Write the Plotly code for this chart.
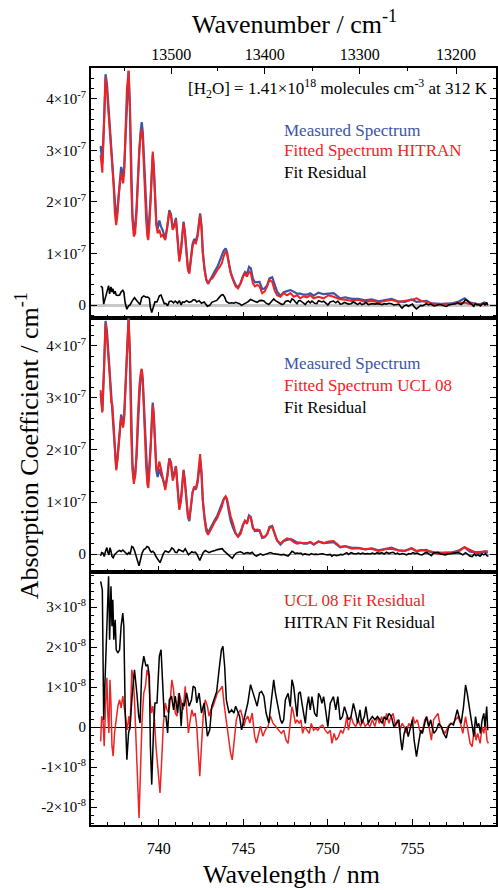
import plotly.graph_objects as go

W, H = 498, 890
ML, MR, MT, MB = 91, 0, 68, 65
FONT = "Liberation Serif, Times New Roman, serif"
BLUE = "#3B55A8"
RED = "#EE2424"
BLACK = "#000000"

# ---------------- data ----------------
wl_spec = [736.57, 736.67, 736.77, 736.86, 736.94, 737.00, 737.10, 737.20, 737.26, 737.34,
           737.41, 737.49, 737.57, 737.65, 737.73, 737.78, 737.84, 737.90, 737.96, 738.04,
           738.12, 738.22, 738.30, 738.37, 738.45, 738.53, 738.61, 738.69, 738.76, 738.86,
           738.94, 739.00, 739.06, 739.16, 739.26, 739.33, 739.39, 739.45, 739.53, 739.59,
           739.65, 739.71, 739.79, 739.86, 739.94, 740.04, 740.14, 740.24, 740.39, 740.51,
           740.63, 740.73, 740.83, 740.92, 741.02, 741.12, 741.22, 741.32, 741.41, 741.47,
           741.55, 741.65, 741.73, 741.81, 741.90, 742.00, 742.10, 742.20, 742.30, 742.39,
           742.45, 742.53, 742.61, 742.71, 742.81, 742.92, 743.04, 743.18, 743.32, 743.47,
           743.61, 743.73, 743.84, 743.96, 744.04, 744.14, 744.26, 744.39, 744.55, 744.69,
           744.85, 744.98, 745.10, 745.22, 745.34, 745.45, 745.57, 745.69, 745.83, 745.96,
           746.12, 746.26, 746.41, 746.55, 746.71, 746.85, 747.00, 747.20, 747.39, 747.59,
           747.79, 747.98, 748.18, 748.37, 748.57, 748.77, 748.96, 749.16, 749.45, 749.75,
           750.04, 750.34, 750.73, 751.03, 751.42, 751.81, 752.20, 752.59, 752.99, 753.38,
           753.77, 754.16, 754.55, 754.95, 755.24, 755.53, 755.83, 756.12, 756.52, 756.91,
           757.30, 757.69, 758.08, 758.38, 758.67, 758.97, 759.26, 759.45]

# absorption coefficient, units of 1e-7 cm^-1
measured = [3.09, 2.75, 3.55, 4.48, 4.30, 4.00, 3.52, 2.94, 2.83, 2.42,
            1.90, 1.64, 1.87, 2.26, 2.54, 2.68, 2.60, 2.50, 2.66, 3.22,
            4.09, 4.54, 3.85, 2.47, 1.74, 1.45, 1.52, 1.87, 2.42, 3.03,
            3.39, 3.55, 3.36, 2.53, 1.80, 1.48, 1.40, 1.65, 2.10, 2.55,
            2.91, 2.69, 2.10, 1.61, 1.48, 1.64, 1.52, 1.45, 1.29, 1.51,
            1.84, 1.76, 1.49, 1.55, 1.69, 1.28, 0.88, 1.07, 1.49, 1.62,
            1.42, 0.99, 0.71, 0.63, 0.90, 1.18, 1.28, 1.24, 1.37, 1.70,
            1.78, 1.54, 1.03, 0.71, 0.50, 0.41, 0.49, 0.56, 0.66, 0.74,
            0.85, 0.95, 1.05, 1.10, 1.03, 0.83, 0.63, 0.51, 0.39, 0.34,
            0.43, 0.56, 0.64, 0.60, 0.74, 0.71, 0.51, 0.44, 0.44, 0.45,
            0.31, 0.32, 0.38, 0.52, 0.54, 0.39, 0.26, 0.18, 0.25, 0.27,
            0.29, 0.26, 0.22, 0.22, 0.20, 0.20, 0.23, 0.18, 0.24, 0.21,
            0.22, 0.23, 0.13, 0.15, 0.12, 0.12, 0.09, 0.11, 0.07, 0.10,
            0.12, 0.07, 0.06, 0.11, 0.06, 0.07, 0.08, 0.03, 0.02, 0.02,
            0.03, 0.06, 0.13, 0.05, 0.03, 0.01, 0.05, 0.02]

hitran_fit = [2.91, 2.57, 3.53, 4.42, 4.17, 3.85, 3.40, 2.78, 2.69, 2.30,
              1.78, 1.55, 1.78, 2.17, 2.43, 2.56, 2.46, 2.36, 2.56, 3.20,
              4.17, 4.55, 3.85, 2.43, 1.65, 1.33, 1.39, 1.78, 2.36, 3.01,
              3.33, 3.41, 3.20, 2.36, 1.65, 1.33, 1.26, 1.52, 2.17, 2.69,
              2.98, 2.69, 2.04, 1.55, 1.39, 1.46, 1.33, 1.36, 1.26, 1.52,
              1.81, 1.72, 1.46, 1.52, 1.65, 1.26, 0.84, 1.07, 1.46, 1.59,
              1.39, 0.94, 0.68, 0.61, 0.87, 1.13, 1.23, 1.20, 1.33, 1.65,
              1.75, 1.52, 1.00, 0.68, 0.49, 0.42, 0.49, 0.52, 0.61, 0.68,
              0.74, 0.81, 0.94, 1.04, 1.00, 0.81, 0.61, 0.49, 0.36, 0.32,
              0.42, 0.55, 0.61, 0.55, 0.65, 0.61, 0.42, 0.36, 0.39, 0.36,
              0.23, 0.26, 0.36, 0.49, 0.45, 0.29, 0.19, 0.16, 0.23, 0.19,
              0.23, 0.16, 0.19, 0.13, 0.17, 0.15, 0.19, 0.13, 0.16, 0.13,
              0.19, 0.16, 0.11, 0.10, 0.08, 0.10, 0.06, 0.08, 0.05, 0.08,
              0.10, 0.06, 0.08, 0.10, 0.13, 0.08, 0.06, 0.03, 0.01, 0.03,
              0.02, 0.03, 0.05, 0.02, 0.03, 0.01, 0.03, 0.02]

ucl_fit = [3.15, 2.72, 3.58, 4.43, 4.18, 3.97, 3.47, 2.91, 2.88, 2.47,
           1.91, 1.61, 1.82, 2.20, 2.48, 2.63, 2.54, 2.43, 2.61, 3.20,
           4.09, 4.52, 3.85, 2.37, 1.61, 1.35, 1.49, 1.92, 2.57, 3.24,
           3.48, 3.56, 3.32, 2.44, 1.68, 1.34, 1.27, 1.55, 2.05, 2.51,
           2.86, 2.66, 2.11, 1.67, 1.58, 1.78, 1.63, 1.48, 1.23, 1.47,
           1.83, 1.71, 1.41, 1.51, 1.69, 1.25, 0.85, 1.01, 1.47, 1.60,
           1.36, 0.98, 0.75, 0.66, 0.91, 1.18, 1.30, 1.26, 1.43, 1.83,
           1.92, 1.61, 1.03, 0.67, 0.44, 0.37, 0.46, 0.53, 0.62, 0.69,
           0.81, 0.90, 1.05, 1.11, 1.06, 0.87, 0.72, 0.59, 0.40, 0.33,
           0.39, 0.55, 0.63, 0.58, 0.73, 0.69, 0.49, 0.46, 0.47, 0.46,
           0.33, 0.33, 0.38, 0.50, 0.52, 0.39, 0.26, 0.20, 0.26, 0.30,
           0.28, 0.23, 0.20, 0.21, 0.21, 0.21, 0.23, 0.19, 0.24, 0.21,
           0.24, 0.25, 0.14, 0.15, 0.10, 0.11, 0.09, 0.10, 0.06, 0.09,
           0.10, 0.07, 0.06, 0.11, 0.05, 0.08, 0.06, 0.05, 0.00, 0.03,
           0.02, 0.04, 0.13, 0.08, 0.04, 0.04, 0.06, 0.06]

# fit residuals, units of 1e-8 cm^-1
wl_res_hitran = [736.57, 736.67, 736.75, 736.90, 737.04, 737.10, 737.18, 737.24, 737.29, 737.35,
                 737.43, 737.49, 737.59, 737.69, 737.78, 737.88, 737.94, 738.02, 738.12, 738.22,
                 738.31, 738.43, 738.57, 738.71, 738.82, 738.90, 739.00, 739.12, 739.25, 739.35,
                 739.45, 739.51, 739.59, 739.69, 739.78, 739.90, 740.04, 740.14, 740.24, 740.33,
                 740.43, 740.53, 740.63, 740.76, 740.88, 740.98, 741.12, 741.22, 741.33, 741.41,
                 741.51, 741.65, 741.80, 741.94, 742.04, 742.16, 742.25, 742.39, 742.53, 742.69,
                 742.88, 743.02, 743.14, 743.27, 743.43, 743.57, 743.71, 743.80, 743.90, 744.00,
                 744.16, 744.31, 744.45, 744.55, 744.69, 744.78, 744.90, 745.00, 745.14, 745.27,
                 745.43, 745.53, 745.67, 745.82, 745.96, 746.08, 746.22, 746.35, 746.51, 746.67,
                 746.80, 746.90, 747.06, 747.20, 747.29, 747.39, 747.49, 747.65, 747.78, 747.88,
                 747.98, 748.08, 748.18, 748.27, 748.37, 748.47, 748.57, 748.67, 748.76, 748.86,
                 748.96, 749.06, 749.22, 749.35, 749.45, 749.55, 749.65, 749.75, 749.84, 750.00,
                 750.14, 750.24, 750.33, 750.47, 750.59, 750.73, 750.86, 750.98, 751.12, 751.22,
                 751.37, 751.51, 751.65, 751.76, 751.90, 752.00, 752.16, 752.25, 752.39, 752.49,
                 752.63, 752.78, 752.94, 753.08, 753.22, 753.33, 753.47, 753.61, 753.76, 753.90,
                 754.06, 754.20, 754.31, 754.39, 754.51, 754.65, 754.75, 754.88, 755.00, 755.10,
                 755.24, 755.33, 755.49, 755.59, 755.73, 755.82, 755.96, 756.08, 756.16, 756.27,
                 756.41, 756.55, 756.71, 756.84, 757.00, 757.14, 757.29, 757.43, 757.55, 757.65,
                 757.75, 757.88, 758.02, 758.14, 758.24, 758.33, 758.43, 758.53, 758.63, 758.73,
                 758.82, 758.92, 759.02, 759.12, 759.22, 759.29, 759.39, 759.45]
res_hitran = [3.64, 3.43, 0.18, 2.10, 3.77, 2.18, 3.52, 2.52, 3.18, 2.18,
              2.68, 1.93, 1.85, 1.93, 2.52, 2.85, 2.52, 0.43, -0.82, -0.15,
              0.02, 0.77, 1.43, 0.85, 0.27, 0.10, 1.43, 1.77, 1.52, 1.56,
              1.27, -0.48, -1.44, -0.15, 0.60, 0.60, 1.77, 1.93, 0.85, 0.27,
              0.27, -0.15, 0.68, 0.77, 0.43, 0.77, 0.35, 0.85, 0.02, 0.60,
              0.52, 0.85, 0.52, 0.68, 1.02, 0.98, 0.60, 0.85, 0.35, 0.60,
              -0.23, -0.07, 0.52, 0.68, 0.89, 1.43, 1.93, 2.02, 1.52, 0.68,
              0.35, 0.43, 0.35, 0.52, 0.39, 0.27, -0.07, 0.10, 0.35, 0.60,
              1.06, 0.93, 0.77, 0.52, 0.85, 0.89, 0.77, 0.35, 0.10, 0.68,
              1.18, 0.85, 0.52, 0.18, 0.09, 0.18, 0.68, 0.84, 0.51, 1.18,
              1.01, 0.59, 0.26, 0.84, 0.88, 0.59, 0.34, 0.09, 0.51, 0.76,
              0.43, 0.76, 0.34, 0.26, 0.84, 0.76, 0.59, 0.76, 0.51, 0.01,
              0.59, 0.68, 0.76, 0.43, 0.76, 0.18, 0.26, 0.51, 0.34, 0.18,
              0.26, 0.59, 0.34, 0.09, 0.43, 0.09, 0.26, 0.51, 0.09, 0.18,
              0.26, 0.18, 0.26, 0.18, 0.09, 0.26, 0.18, 0.34, 0.26, 0.01,
              0.09, 0.18, -0.33, -0.58, -0.16, 0.01, -0.24, 0.01, 0.18, -0.33,
              -0.74, -0.49, -0.08, -0.16, 0.09, 0.26, 0.01, 0.18, 0.01, -0.16,
              -0.08, 0.09, 0.01, -0.16, -0.28, 0.01, 0.09, 0.05, 0.26, 0.43,
              0.26, 0.09, 0.51, 1.05, 0.84, 0.59, 0.26, 0.01, -0.24, 0.26,
              0.01, 0.09, -0.16, 0.18, 0.34, 0.01, 0.51, -0.08]

wl_res_ucl = [736.57, 736.63, 736.71, 736.78, 736.86, 736.94, 737.00, 737.06, 737.12, 737.18,
              737.24, 737.31, 737.39, 737.49, 737.59, 737.69, 737.78, 737.88, 737.96, 738.04,
              738.14, 738.24, 738.31, 738.41, 738.49, 738.57, 738.67, 738.76, 738.84, 738.92,
              739.02, 739.12, 739.22, 739.31, 739.41, 739.49, 739.57, 739.65, 739.75, 739.84,
              739.94, 740.08, 740.18, 740.27, 740.39, 740.49, 740.59, 740.69, 740.78, 740.88,
              740.98, 741.08, 741.18, 741.31, 741.45, 741.57, 741.67, 741.76, 741.84, 741.96,
              742.06, 742.16, 742.25, 742.35, 742.43, 742.53, 742.63, 742.75, 742.88, 742.98,
              743.08, 743.22, 743.33, 743.47, 743.63, 743.76, 743.86, 743.96, 744.12, 744.25,
              744.35, 744.47, 744.59, 744.71, 744.84, 744.94, 745.04, 745.14, 745.27, 745.39,
              745.53, 745.67, 745.78, 745.92, 746.02, 746.16, 746.31, 746.47, 746.61, 746.75,
              746.90, 747.06, 747.25, 747.39, 747.53, 747.65, 747.78, 747.88, 747.98, 748.08,
              748.18, 748.31, 748.41, 748.51, 748.63, 748.76, 748.90, 749.02, 749.16, 749.29,
              749.41, 749.55, 749.69, 749.84, 750.00, 750.14, 750.24, 750.37, 750.49, 750.63,
              750.76, 750.88, 751.02, 751.12, 751.22, 751.37, 751.51, 751.65, 751.80, 751.94,
              752.06, 752.20, 752.35, 752.49, 752.63, 752.78, 752.92, 753.04, 753.18, 753.33,
              753.47, 753.61, 753.73, 753.86, 754.00, 754.12, 754.25, 754.39, 754.51, 754.65,
              754.78, 754.90, 755.04, 755.14, 755.29, 755.43, 755.57, 755.73, 755.86, 755.98,
              756.12, 756.25, 756.39, 756.51, 756.65, 756.80, 756.94, 757.10, 757.24, 757.39,
              757.53, 757.69, 757.84, 757.98, 758.14, 758.27, 758.41, 758.53, 758.67, 758.76,
              758.86, 759.00, 759.12, 759.22, 759.31, 759.41, 759.49]
res_ucl = [-0.36, 0.27, 0.18, -0.48, 0.52, 1.23, 0.27, -0.15, 1.18, 0.60,
           -0.48, -0.73, -0.15, 0.27, 0.52, 0.68, 0.48, 0.77, 0.52, 0.18,
           -0.07, 0.27, -0.07, 1.43, 1.27, 0.68, -0.32, -1.48, -2.28, -1.15,
           0.18, 0.85, 1.02, 1.43, 1.27, 0.68, 0.35, 0.52, 0.18, -0.48,
           -0.98, -1.65, -0.82, 0.02, 0.60, 0.43, 0.35, 0.68, 1.18, 0.93,
           0.35, 0.27, 0.85, 0.68, 0.43, 1.02, 0.35, -0.15, 0.10, 0.43,
           0.27, 0.35, 0.02, -0.57, -1.23, -0.48, 0.27, 0.68, 0.52, 0.27,
           0.43, 0.52, 0.68, 0.85, 0.93, 1.02, 0.60, 0.27, -0.15, -0.65,
           -0.82, -0.23, 0.18, 0.35, 0.43, 0.27, 0.02, 0.18, 0.27, 0.10,
           0.35, -0.23, -0.40, -0.15, 0.02, -0.23, -0.07, 0.02, 0.27, 0.10,
           0.02, -0.07, -0.16, -0.08, -0.33, -0.41, 0.09, 0.51, 0.34, 0.09,
           0.18, 0.09, 0.18, -0.16, 0.01, -0.08, -0.16, 0.09, -0.08, -0.03,
           -0.08, 0.01, 0.05, -0.08, -0.16, -0.08, -0.41, -0.16, -0.33, -0.24,
           -0.08, -0.16, 0.01, 0.26, -0.08, 0.26, 0.09, 0.01, 0.18, 0.01,
           0.18, 0.01, 0.09, 0.01, 0.18, 0.01, 0.26, 0.09, 0.26, 0.01,
           0.34, 0.09, 0.26, 0.34, 0.01, 0.18, -0.08, 0.09, 0.01, -0.16,
           0.09, 0.01, 0.26, 0.09, 0.18, -0.08, -0.16, 0.18, 0.26, 0.01,
           -0.33, 0.18, 0.26, 0.34, 0.01, -0.08, -0.16, 0.01, 0.09, 0.09,
           0.18, 0.26, 0.09, -0.16, 0.26, -0.08, -0.41, -0.49, 0.01, -0.33,
           -0.16, -0.41, 0.01, -0.16, 0.09, -0.33, -0.41]

wn_ticks = [13500, 13400, 13300, 13200]
wn_minor = [13550, 13450, 13350, 13250]
spec_ticks = [0, 1, 2, 3, 4]          # x 1e-7
res_ticks = [-2, -1, 0, 1, 2, 3]      # x 1e-8
x_range = [736.0, 759.94]

E7, E8 = 1e-7, 1e-8

# ---------------- layout helpers ----------------
PH = H - MT - MB
PW = W - ML - MR


def fy(ypix):
    return (H - MB - ypix) / PH


def fx(xpix):
    return (xpix - ML) / PW


def pow_label(v, e):
    if v == 0:
        return "0"
    return f"{v}×10<sup>-{e}</sup>"


fig = go.Figure()

# panel 1 : HITRAN
fig.add_trace(go.Scatter(x=wl_spec, y=[v * E7 for v in measured], xaxis="x", yaxis="y",
                         mode="lines", line=dict(color=BLUE, width=2.2)))
fig.add_trace(go.Scatter(x=wl_spec, y=[v * E7 for v in hitran_fit], xaxis="x", yaxis="y",
                         mode="lines", line=dict(color=RED, width=2)))
fig.add_trace(go.Scatter(x=wl_res_hitran, y=[v * E8 for v in res_hitran], xaxis="x", yaxis="y",
                         mode="lines", line=dict(color=BLACK, width=1.6)))
# invisible copy bound to the top (wavenumber) axis so that the axis is drawn
fig.add_trace(go.Scatter(x=wl_spec, y=[v * E7 for v in measured], xaxis="x4", yaxis="y",
                         mode="lines", line=dict(color="rgba(0,0,0,0)", width=0),
                         hoverinfo="skip"))
# panel 2 : UCL 08
fig.add_trace(go.Scatter(x=wl_spec, y=[v * E7 for v in measured], xaxis="x2", yaxis="y2",
                         mode="lines", line=dict(color=BLUE, width=2.2)))
fig.add_trace(go.Scatter(x=wl_spec, y=[v * E7 for v in ucl_fit], xaxis="x2", yaxis="y2",
                         mode="lines", line=dict(color=RED, width=2)))
fig.add_trace(go.Scatter(x=wl_res_ucl, y=[v * E8 for v in res_ucl], xaxis="x2", yaxis="y2",
                         mode="lines", line=dict(color=BLACK, width=1.6)))
# panel 3 : residual comparison
fig.add_trace(go.Scatter(x=wl_res_ucl, y=[v * E8 for v in res_ucl], xaxis="x3", yaxis="y3",
                         mode="lines", line=dict(color=RED, width=1.5)))
fig.add_trace(go.Scatter(x=wl_res_hitran, y=[v * E8 for v in res_hitran], xaxis="x3", yaxis="y3",
                         mode="lines", line=dict(color=BLACK, width=1.5)))

axis_common = dict(showline=True, linecolor="black", linewidth=2, ticks="inside",
                   ticklen=6, tickwidth=1, tickcolor="black", showgrid=False,
                   tickfont=dict(family=FONT, size=15, color="black"))

x_common = dict(axis_common, range=x_range, tickmode="linear", tick0=740, dtick=5,
                minor=dict(ticks="inside", ticklen=3, tickcolor="black", tickmode="linear",
                           tick0=740, dtick=1, showgrid=False),
                zeroline=False)

fig.update_layout(
    width=W, height=H,
    margin=dict(l=ML, r=MR, t=MT, b=MB),
    paper_bgcolor="white", plot_bgcolor="white",
    showlegend=False,
    font=dict(family=FONT, color="black"),
    xaxis=dict(x_common, anchor="y", showticklabels=False, mirror=True, domain=[0, 1]),
    xaxis2=dict(x_common, anchor="y2", showticklabels=False, mirror=True, matches="x"),
    xaxis3=dict(x_common, anchor="y3", showticklabels=True, mirror=True, matches="x",
                ticklabelstandoff=8, tickfont=dict(family=FONT, size=16, color="black")),
    xaxis4=dict(axis_common, overlaying="x", side="top", anchor="y", range=x_range,
                tickmode="array", tickvals=[1e7 / w for w in wn_ticks],
                ticktext=[str(w) for w in wn_ticks],
                tickfont=dict(family=FONT, size=16, color="black"),
                minor=dict(ticks="inside", ticklen=3, tickcolor="black", tickmode="array",
                           tickvals=[1e7 / w for w in wn_minor], showgrid=False),
                zeroline=False),
    yaxis=dict(axis_common, domain=[fy(318), 1], anchor="x",
               range=[-0.252 * E7, 4.60 * E7], mirror="ticks",
               tickmode="array", tickvals=[v * E7 for v in spec_ticks],
               ticktext=[pow_label(v, 7) for v in spec_ticks],
               minor=dict(ticks="inside", ticklen=3, tickcolor="black", tickmode="linear",
                          tick0=0, dtick=0.2 * E7, showgrid=False),
               zeroline=True, zerolinecolor="#c8c8c8", zerolinewidth=3),
    yaxis2=dict(axis_common, domain=[fy(572), fy(318)], anchor="x2",
                range=[-0.346 * E7, 4.538 * E7], mirror="ticks",
                tickmode="array", tickvals=[v * E7 for v in spec_ticks],
                ticktext=[pow_label(v, 7) for v in spec_ticks],
                minor=dict(ticks="inside", ticklen=3, tickcolor="black", tickmode="linear",
                           tick0=0, dtick=0.2 * E7, showgrid=False),
                zeroline=True, zerolinecolor="#9a9a9a", zerolinewidth=1),
    yaxis3=dict(axis_common, domain=[0, fy(572)], anchor="x3",
                range=[-2.45 * E8, 3.875 * E8], mirror="ticks",
                tickmode="array", tickvals=[v * E8 for v in res_ticks],
                ticktext=[pow_label(v, 8) for v in res_ticks],
                minor=dict(ticks="inside", ticklen=3, tickcolor="black", tickmode="linear",
                           tick0=0, dtick=0.2 * E8, showgrid=False),
                zeroline=True, zerolinecolor="black", zerolinewidth=1),
)


def add_text(text, xpix, ypix, size, color="black", xanchor="left", angle=0):
    fig.add_annotation(text=text, x=fx(xpix), y=fy(ypix), xref="paper", yref="paper",
                       xanchor=xanchor, yanchor="middle", showarrow=False, textangle=angle,
                       font=dict(family=FONT, size=size, color=color))


add_text("Wavenumber / cm<sup>-1</sup>", 296, 22, 26, xanchor="center")
add_text("Wavelength / nm", 292, 874, 26, xanchor="center")
add_text("Absorption Coefficient / cm<sup>-1</sup>", 27, 446, 26, xanchor="center", angle=-90)
add_text("[H<sub>2</sub>O] = 1.41×10<sup>18</sup> molecules cm<sup>-3</sup> at 312 K",
         492, 88, 17, xanchor="right")

add_text("Measured Spectrum", 283, 130, 17, BLUE)
add_text("Fitted Spectrum HITRAN", 283, 151, 17, RED)
add_text("Fit Residual", 283, 172, 17, BLACK)

add_text("Measured Spectrum", 283, 363, 17, BLUE)
add_text("Fitted Spectrum UCL 08", 283, 385, 17, RED)
add_text("Fit Residual", 283, 407, 17, BLACK)

add_text("UCL 08 Fit Residual", 283, 600, 17, RED)
add_text("HITRAN Fit Residual", 283, 622, 17, BLACK)

fig.write_html("out.html")
